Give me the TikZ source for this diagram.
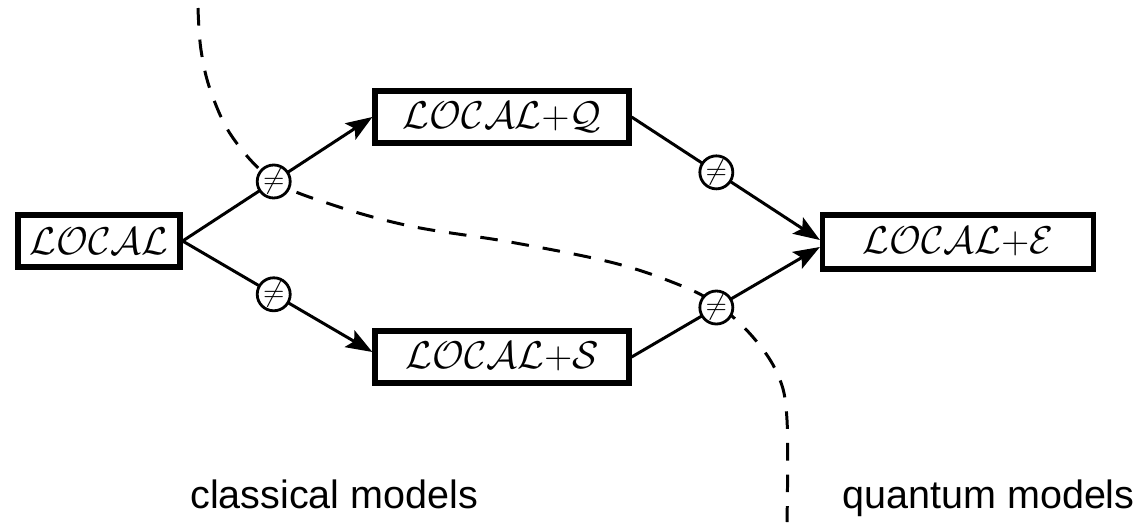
\RequirePackage{fix-cm}
\documentclass[tikz,border=0pt]{standalone}
\usepackage{amsmath, amssymb}
\usepackage{fontspec}
\newfontfamily\labelfont{Liberation Sans}
\usepackage{tikz}
\usetikzlibrary{calc, arrows.meta, positioning}

\begin{document}
\begin{tikzpicture}[x=0.02cm, y=-0.02cm,
    >={Stealth[length=15pt, width=11pt, inset=3pt]},
    modelbox/.style={draw, line width=3pt, fill=white, inner sep=0pt,
        minimum height=1.04cm, font=\fontsize{22}{26}\selectfont},
    neqmark/.style={circle, draw, line width=1.6pt, fill=white, inner sep=0pt,
        minimum size=0.66cm, font=\fontsize{16}{19}\selectfont},
    link/.style={->, line width=1.7pt},
    border/.style={line width=1.7pt, dash pattern=on 10pt off 8pt},
    sidelabel/.style={anchor=base west, inner sep=0pt,
        font=\labelfont\fontsize{22.5}{27}\selectfont}]

    \useasboundingbox (0,0) rectangle (1142,522);

    % =================================================================
    % BORDER BETWEEN CLASSICAL AND QUANTUM MODELS
    % =================================================================
    \draw[border] plot[smooth, tension=0.6] coordinates {
        (198,8) (201,50) (211,92) (233,138) (273,180) (330,204)
        (410,226) (510,242) (610,262) (672,282) (715,303)
        (752,336) (778,375) (787,420) (787,522)};

    % =================================================================
    % MODELS
    % =================================================================
    \node[modelbox, minimum width=3.24cm] (local) at (99,241) {$\mathcal{LOCAL}$};
    \node[modelbox, minimum width=5.08cm] (lq) at (502,117) {$\mathcal{LOCAL}{+}\mathcal{Q}$};
    \node[modelbox, minimum width=5.08cm] (ls) at (502,357) {$\mathcal{LOCAL}{+}\mathcal{S}$};
    \node[modelbox, minimum width=5.42cm, minimum height=1.08cm] (le) at (958,242) {$\mathcal{LOCAL}{+}\mathcal{E}$};

    % Arrows, each one marked as a strict separation
    \draw[link] (local.east) -- node[neqmark, pos=0.48] (nq) {$\neq$} (lq.west);
    \draw[link] (local.east) -- node[neqmark, pos=0.48] (ns) {$\neq$} ([yshift=0.1cm]ls.west);
    \draw[link] (lq.east) -- node[neqmark, pos=0.45] (nqe) {$\neq$} ([yshift=0.04cm]le.west);
    \draw[link] (ls.east) -- node[neqmark, pos=0.45] (nse) {$\neq$} ([yshift=-0.1cm]le.west);

    % Captions of both sides
    \node[sidelabel] (classical) at (190,508) {classical models};
    \node[sidelabel] (quantum) at (842,508) {quantum models};

\end{tikzpicture}
\end{document}
